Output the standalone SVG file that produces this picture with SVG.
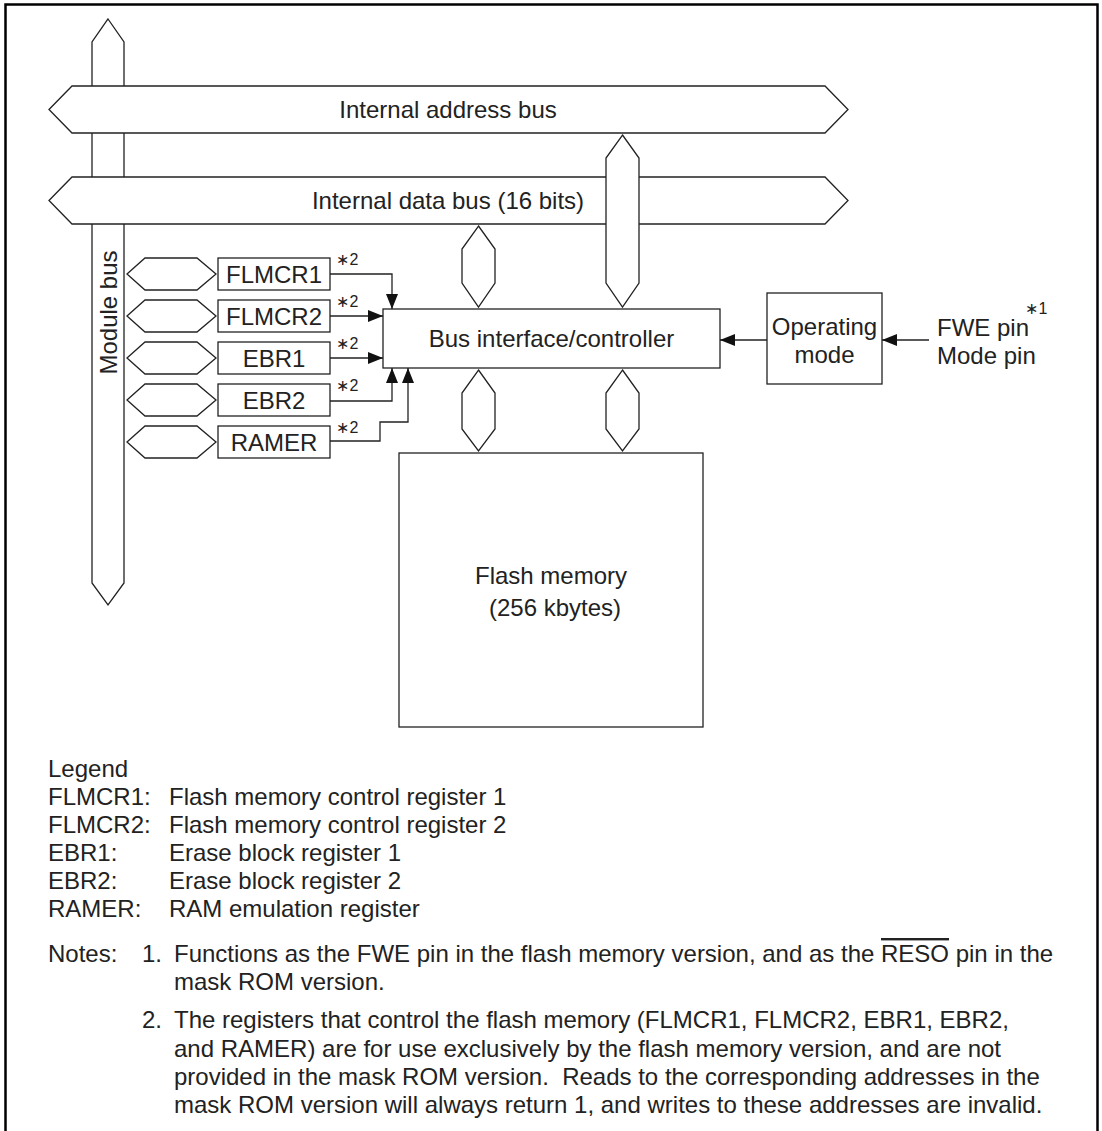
<svg xmlns="http://www.w3.org/2000/svg" width="1102" height="1131" viewBox="0 0 1102 1131">
<style>
text{font-family:"Liberation Sans",Arial,"DejaVu Sans",sans-serif;font-size:24px;fill:#222}
.m{text-anchor:middle}
.sup{font-size:16px}
.s{fill:#fff;stroke:#222;stroke-width:1.3;stroke-linejoin:miter}
.c{fill:none;stroke:#222;stroke-width:1.3}
</style>
<defs>
<marker id="ah" markerUnits="userSpaceOnUse" markerWidth="16" markerHeight="12" viewBox="0 0 16 12" refX="15" refY="6" orient="auto">
<path d="M0,0 L15,6 L0,12 Z" fill="#111"/>
</marker>
</defs>
<rect x="5.5" y="4.5" width="1092" height="1140" fill="#fff" stroke="#000" stroke-width="2.5"/>

<g id="module-bus">
<polygon class="s" points="108,19 124,42 124,583 108,605 92,583 92,42"/>
<text transform="translate(117,312.5) rotate(-90)" class="m">Module bus</text>
</g>
<g id="address-bus">
<polygon class="s" points="49,109.5 72,86 825,86 848,109.5 825,133 72,133"/>
<text x="448" y="118" class="m">Internal address bus</text>
</g>
<g id="data-bus">
<polygon class="s" points="49,200.5 72,177 825,177 848,200.5 825,224 72,224"/>
<text x="448" y="209" class="m">Internal data bus (16 bits)</text>
</g>

<g id="links">
<polygon class="s" points="622.5,135 639,158 639,283 622.5,307 606,283 606,158"/>
<polygon class="s" points="478.5,226 495,249 495,283 478.5,307 462,283 462,249"/>
<polygon class="s" points="478.5,370 495,393 495,429 478.5,451 462,429 462,393"/>
<polygon class="s" points="622.5,370 639,393 639,429 622.5,451 606,429 606,393"/>
<polygon class="s" points="127,274 145,258 197,258 216,274 197,290 145,290"/>
<polygon class="s" points="127,316 145,300 197,300 216,316 197,332 145,332"/>
<polygon class="s" points="127,358 145,342 197,342 216,358 197,374 145,374"/>
<polygon class="s" points="127,400 145,384 197,384 216,400 197,416 145,416"/>
<polygon class="s" points="127,442 145,426 197,426 216,442 197,458 145,458"/>
</g>

<g id="flmcr1">
<rect class="s" x="218" y="258" width="112" height="32"/>
<text x="274" y="283" class="m">FLMCR1</text>
<text x="336" y="265" class="sup">∗2</text>
</g>
<g id="flmcr2">
<rect class="s" x="218" y="300" width="112" height="32"/>
<text x="274" y="325" class="m">FLMCR2</text>
<text x="336" y="307" class="sup">∗2</text>
</g>
<g id="ebr1">
<rect class="s" x="218" y="342" width="112" height="32"/>
<text x="274" y="367" class="m">EBR1</text>
<text x="336" y="349" class="sup">∗2</text>
</g>
<g id="ebr2">
<rect class="s" x="218" y="384" width="112" height="32"/>
<text x="274" y="409" class="m">EBR2</text>
<text x="336" y="391" class="sup">∗2</text>
</g>
<g id="ramer">
<rect class="s" x="218" y="426" width="112" height="32"/>
<text x="274" y="451" class="m">RAMER</text>
<text x="336" y="433" class="sup">∗2</text>
</g>

<g id="controller">
<rect class="s" x="383" y="309" width="337" height="59"/>
<text x="551.5" y="347" class="m">Bus interface/controller</text>
</g>
<g id="flash">
<rect class="s" x="399" y="453" width="304" height="274"/>
<text x="551" y="584" class="m">Flash memory</text>
<text x="555" y="616" class="m">(256 kbytes)</text>
</g>
<g id="operating-mode">
<rect class="s" x="767" y="293" width="115" height="91"/>
<text x="824.5" y="335" class="m">Operating</text>
<text x="824.5" y="363" class="m">mode</text>
</g>
<g id="pins">
<text x="937" y="336">FWE pin</text>
<text x="1025" y="314" class="sup">∗1</text>
<text x="937" y="364">Mode pin</text>
</g>

<g id="connectors">
<polyline class="c" points="330,274 392,274 392,309" marker-end="url(#ah)"/>
<polyline class="c" points="330,316 383,316" marker-end="url(#ah)"/>
<polyline class="c" points="330,358 383,358" marker-end="url(#ah)"/>
<polyline class="c" points="330,401 392,401 392,368" marker-end="url(#ah)"/>
<polyline class="c" points="330,441 380,441 380,422 408,422 408,368" marker-end="url(#ah)"/>
<polyline class="c" points="767,340 720,340" marker-end="url(#ah)"/>
<polyline class="c" points="929,340 882,340" marker-end="url(#ah)"/>
</g>

<g id="legend">
<text x="48" y="777">Legend</text>
<text x="48" y="805">FLMCR1:</text><text x="169" y="805">Flash memory control register 1</text>
<text x="48" y="833">FLMCR2:</text><text x="169" y="833">Flash memory control register 2</text>
<text x="48" y="861">EBR1:</text><text x="169" y="861">Erase block register 1</text>
<text x="48" y="889">EBR2:</text><text x="169" y="889">Erase block register 2</text>
<text x="48" y="917">RAMER:</text><text x="169" y="917">RAM emulation register</text>
</g>
<g id="notes">
<text x="48" y="962">Notes:</text>
<text x="142" y="962">1.</text>
<text x="174" y="962">Functions as the FWE pin in the flash memory version, and as the <tspan style="text-decoration:overline">RESO</tspan> pin in the</text>
<text x="174" y="990">mask ROM version.</text>
<text x="142" y="1028">2.</text>
<text x="174" y="1028">The registers that control the flash memory (FLMCR1, FLMCR2, EBR1, EBR2,</text>
<text x="174" y="1057">and RAMER) are for use exclusively by the flash memory version, and are not</text>
<text x="174" y="1085" xml:space="preserve">provided in the mask ROM version.  Reads to the corresponding addresses in the</text>
<text x="174" y="1113">mask ROM version will always return 1, and writes to these addresses are invalid.</text>
</g>
</svg>
